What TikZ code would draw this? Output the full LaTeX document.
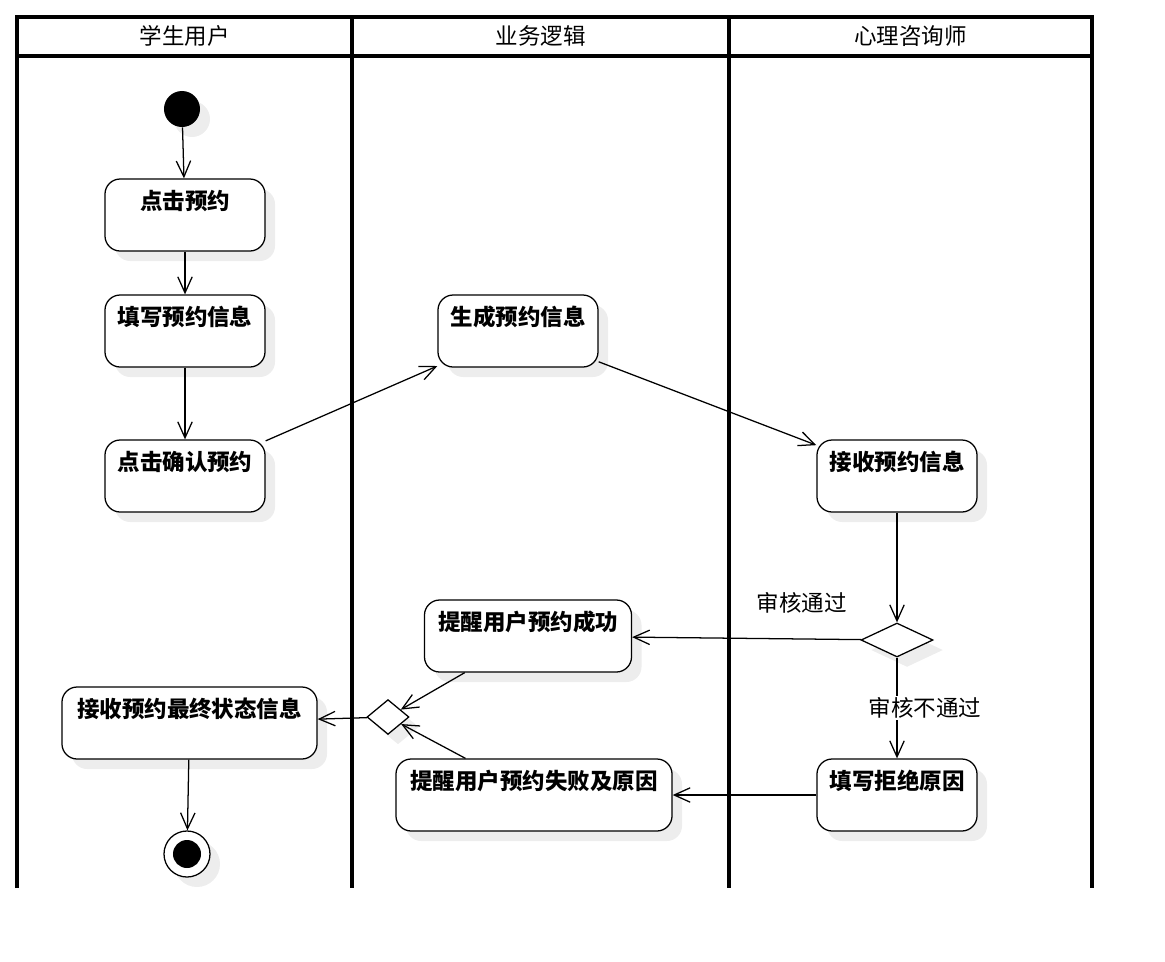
\documentclass[tikz,border=0pt]{standalone}
\usepackage{fontspec}
\setmainfont{Noto Sans CJK SC}
\usetikzlibrary{shapes.geometric,arrows.meta,shadows}
\begin{document}
\begin{tikzpicture}[x=0.025cm,y=-0.025cm,
    lane/.style={line width=0.08cm},
    shade/.style={drop shadow={shadow xshift=0.25cm,shadow yshift=-0.25cm,fill=black!7,opacity=1}},
    act/.style={draw,fill=white,rounded corners=0.38cm,line width=0.9pt,minimum width=4cm,
      text height=0.65cm,text depth=0.95cm,inner sep=0.1cm,
      font=\bfseries\fontsize{16}{18}\selectfont,shade},
    choice/.style={diamond,draw,fill=white,line width=0.9pt,inner sep=0pt,shade},
    initstate/.style={circle,fill=black,minimum size=0.9cm,inner sep=0pt,shade},
    endstate/.style={circle,draw,fill=white,line width=0.9pt,minimum size=1.15cm,inner sep=0pt,shade},
    flow/.style={line width=0.9pt,-{Straight Barb[length=0.4cm,width=0.36cm]}},
    lbl/.style={font=\fontsize{16}{18}\selectfont,inner sep=1pt}]
  \useasboundingbox (0,0) rectangle (1165,961);
  % lanes
  \draw[lane] (17,888) -- (17,17) -- (1092,17) -- (1092,888);
  \draw[lane] (17,56) -- (1092,56);
  \foreach \x in {352,729} \draw[lane] (\x,17) -- (\x,888);
  \node[lbl] (h1) at (184.5,36) {学生用户};
  \node[lbl] (h2) at (540.5,36) {业务逻辑};
  \node[lbl] (h3) at (910.5,36) {心理咨询师};
  % nodes
  \node[initstate] (start) at (182,109) {};
  \node[act] (a1) at (185,215) {点击预约};
  \node[act] (a2) at (185,331) {填写预约信息};
  \node[act] (a3) at (185,476) {点击确认预约};
  \node[act] (b1) at (518,331) {生成预约信息};
  \node[act] (c1) at (897,476) {接收预约信息};
  \node[choice,minimum width=1.8cm,minimum height=0.85cm] (d1) at (897,640) {};
  \node[act,minimum width=5.175cm] (b2) at (528,636) {提醒用户预约成功};
  \node[act] (c2) at (897,795) {填写拒绝原因};
  \node[act,minimum width=6.9cm] (b3) at (534,795) {提醒用户预约失败及原因};
  \node[choice,minimum width=1.05cm,minimum height=0.87cm] (m1) at (388,717) {};
  \node[act,minimum width=6.375cm] (a4) at (189.5,723) {接收预约最终状态信息};
  \node[endstate] (end) at (187,854) {};
  \fill (end) circle (0.35cm);
  % edges
  \draw[flow] (start) -- (a1);
  \draw[flow] (a1) -- (a2);
  \draw[flow] (a2) -- (a3);
  \draw[flow] (a3) -- (b1);
  \draw[flow] (b1) -- (c1);
  \draw[flow] (c1) -- (d1);
  \draw[flow] (d1) -- node[lbl,pos=0.26,above=0.6cm] {审核通过} (b2);
  \draw[flow] (d1) -- node[lbl,fill=white,xshift=0.7cm] {审核不通过} (c2);
  \draw[flow] (c2) -- (b3);
  \draw[flow] (b2) -- (m1);
  \draw[flow] (b3) -- (m1);
  \draw[flow] (m1) -- (a4);
  \draw[flow] (a4) -- (end);
\end{tikzpicture}
\end{document}
